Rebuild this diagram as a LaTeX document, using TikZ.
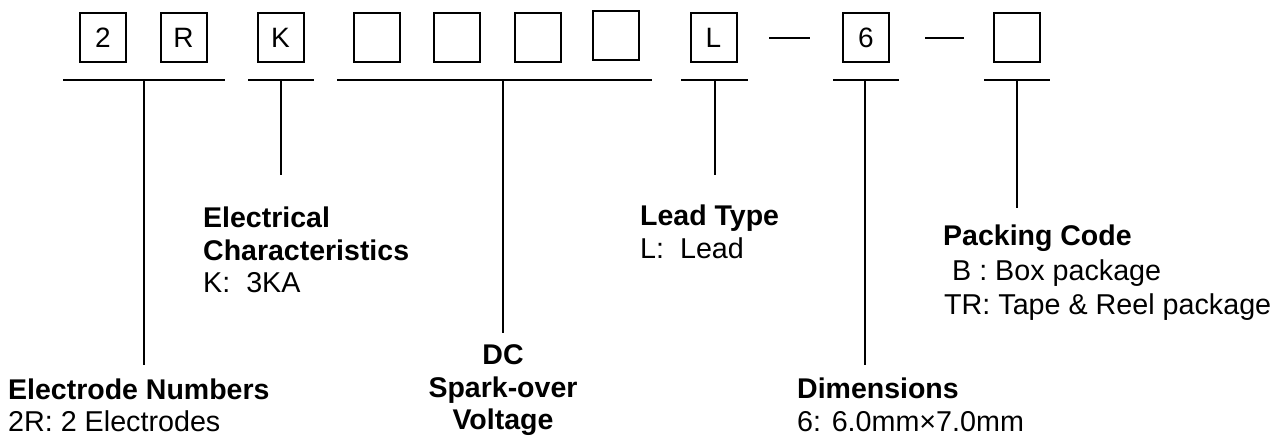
\documentclass[tikz,border=0pt]{standalone}
\usepackage{fontspec}
\setmainfont{Liberation Sans}
\begin{document}
\begin{tikzpicture}[x=1pt,y=-1pt,
  box/.style={draw, line width=2pt, minimum width=46pt, minimum height=49pt, inner sep=0pt, font=\fontsize{28}{32}\selectfont},
  bar/.style={line width=2pt},
  hd/.style={font=\bfseries\fontsize{28.5}{33}\selectfont, anchor=base west, inner sep=0pt},
  tx/.style={font=\fontsize{28.7}{33}\selectfont, anchor=base west, inner sep=0pt},
  hdc/.style={font=\bfseries\fontsize{28.5}{33}\selectfont, anchor=base, inner sep=0pt}]
\useasboundingbox[fill=white] (0,0) rectangle (1288,439);
% code boxes
\node[box] (b1) at (103,37.5) {2};
\node[box] (b2) at (183.5,37.5) {R};
\node[box] (b3) at (280.5,37.5) {K};
\node[box] (b4) at (376.5,37.5) {};
\node[box] (b5) at (457,37.5) {};
\node[box] (b6) at (538,37.5) {};
\node[box] (b7) at (616,35.5) {};
\node[box] (b8) at (713.5,37.5) {L};
\node[box] (b9) at (866,37.5) {6};
\node[box] (b10) at (1016.5,37.5) {};
% dashes
\coordinate (d1a) at (769,37.5); \coordinate (d1b) at (810,37.5);
\coordinate (d2a) at (925,37.5); \coordinate (d2b) at (964,37.5);
\draw[bar] (d1a) -- (d1b);
\draw[bar] (d2a) -- (d2b);
% bars
\coordinate (r1a) at (63,80);  \coordinate (r1b) at (225,80);  \coordinate (r1m) at (144,80);
\coordinate (r2a) at (248,80); \coordinate (r2b) at (314,80);  \coordinate (r2m) at (281,80);
\coordinate (r3a) at (337,80); \coordinate (r3b) at (652,80);  \coordinate (r3m) at (503,80);
\coordinate (r4a) at (681,80); \coordinate (r4b) at (748,80);  \coordinate (r4m) at (715,80);
\coordinate (r5a) at (833,80); \coordinate (r5b) at (899,80);  \coordinate (r5m) at (865,80);
\coordinate (r6a) at (984,80); \coordinate (r6b) at (1050,80); \coordinate (r6m) at (1017,80);
\draw[bar] (r1a) -- (r1b);
\draw[bar] (r2a) -- (r2b);
\draw[bar] (r3a) -- (r3b);
\draw[bar] (r4a) -- (r4b);
\draw[bar] (r5a) -- (r5b);
\draw[bar] (r6a) -- (r6b);
% vertical leader ends
\coordinate (e1) at (144,365);
\coordinate (e2) at (281,175);
\coordinate (e3) at (503,333);
\coordinate (e4) at (715,175);
\coordinate (e5) at (865,365);
\coordinate (e6) at (1017,208);
\draw[bar] (r1m) -- (e1);
\draw[bar] (r2m) -- (e2);
\draw[bar] (r3m) -- (e3);
\draw[bar] (r4m) -- (e4);
\draw[bar] (r5m) -- (e5);
\draw[bar] (r6m) -- (e6);
% texts
\node[hd] (t1a) at (8,399) {Electrode Numbers};
\node[tx] (t1b) at (8,431) {2R: 2 Electrodes};
\node[hd] (t2a) at (203,227) {Electrical};
\node[hd] (t2b) at (203,260) {Characteristics};
\node[tx] (t2c) at (203,292) {K:\ \ 3KA};
\node[hdc] (t3a) at (503,364) {DC};
\node[hdc] (t3b) at (503,397) {Spark-over};
\node[hdc] (t3c) at (503,429) {Voltage};
\node[hd] (t4a) at (640,225) {Lead Type};
\node[tx] (t4b) at (640,258) {L:\ \ Lead};
\node[hd] (t5a) at (797,398) {Dimensions};
\node[tx] (t5b) at (797,431) {6: 6.0mm×7.0mm};
\node[hd] (t6a) at (943,245) {Packing Code};
\node[tx] (t6b) at (944,280) {\ B : Box package};
\node[tx] (t6c) at (944,314) {TR: Tape \& Reel package};
\end{tikzpicture}
\end{document}
